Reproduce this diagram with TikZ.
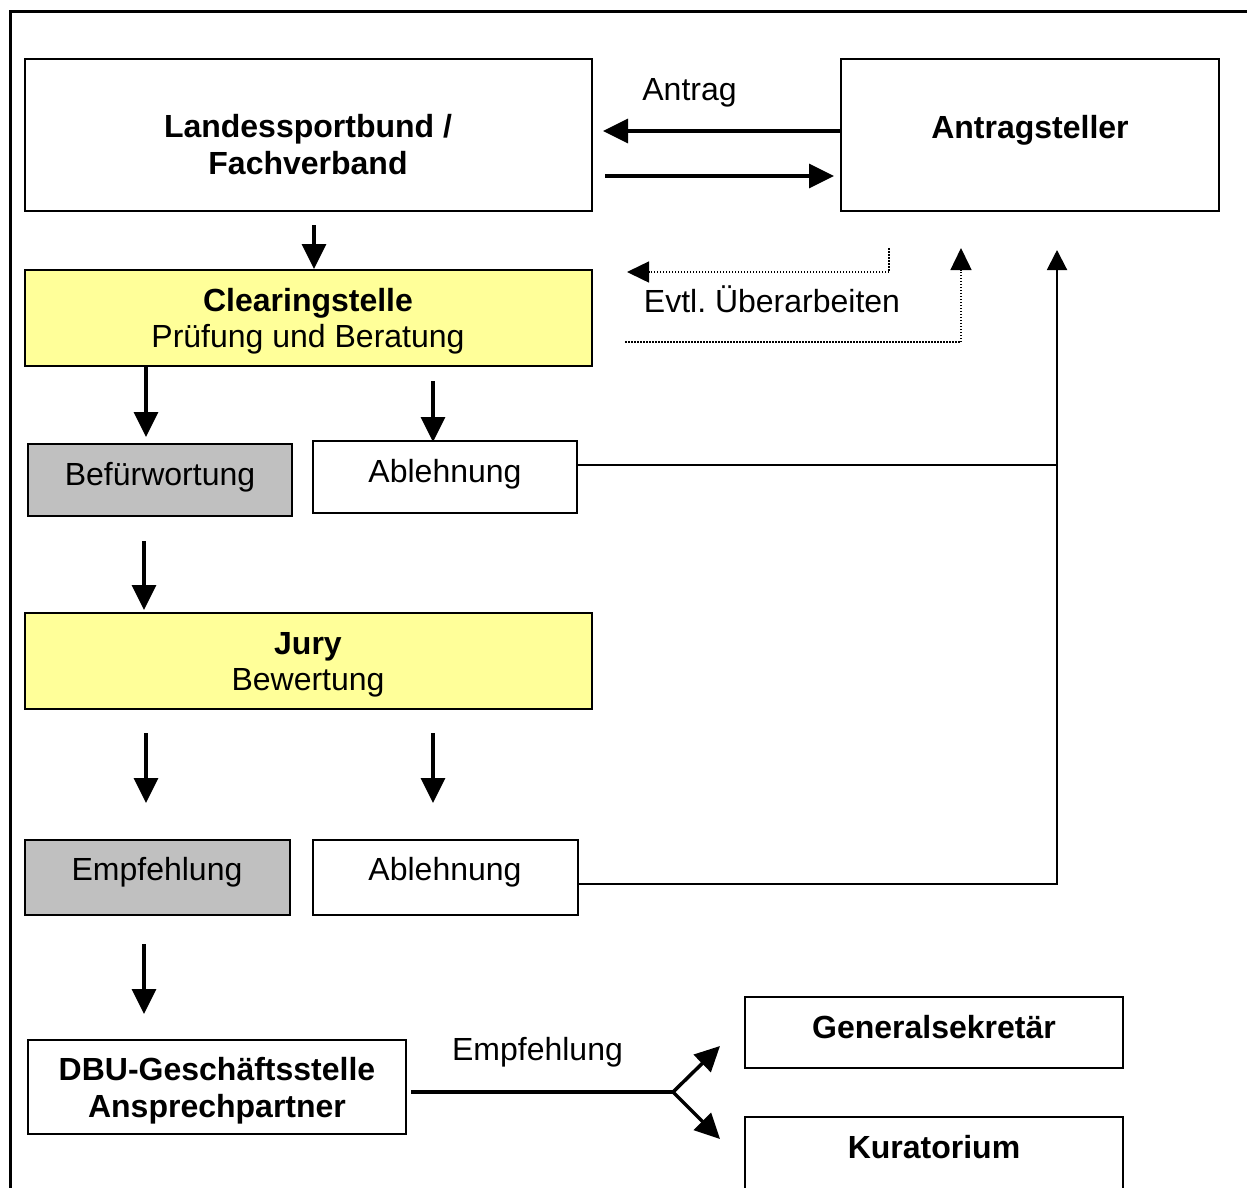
\documentclass[tikz,border=0pt]{standalone}
\usepackage{fontspec}
\setmainfont{Liberation Sans}
\usetikzlibrary{arrows.meta}
\definecolor{paleyellow}{RGB}{255,255,153}
\definecolor{boxgray}{RGB}{192,192,192}
\frenchspacing
\begin{document}
\begin{tikzpicture}[x=1pt,y=-1pt,
  box/.style={draw, line width=2pt, inner sep=0pt},
  txt/.style={anchor=base, inner sep=0pt, font=\fontsize{32}{37}\selectfont},
  btxt/.style={anchor=base, inner sep=0pt, font=\fontsize{32}{37}\selectfont\bfseries},
  big/.style={line width=3.5pt, -{Triangle[length=25pt,width=24pt]}},
  thinline/.style={line width=2pt},
  thinarrow/.style={line width=2pt, -{Triangle[length=20pt,width=20pt]}},
  dots/.style={line width=1.5pt, dash pattern=on 1.5pt off 1.5pt},
  dotarrow/.style={dots, -{Triangle[length=22pt,width=21pt]}}]
\useasboundingbox (0,0) rectangle (1247,1187);
\clip (0,0) rectangle (1247,1187);

% outer frame
\draw[line width=3pt] (10,1200) -- (10,11) -- (1260,11);

% boxes
\node[box, minimum width=567pt, minimum height=152pt] (lsb) at (308.5,135) {};
\node[box, minimum width=378pt, minimum height=152pt] (ant) at (1030,135) {};
\node[box, fill=paleyellow, minimum width=567pt, minimum height=96pt] (cs) at (308.5,318) {};
\node[box, fill=boxgray, minimum width=264pt, minimum height=72pt] (bef) at (160,480) {};
\node[box, minimum width=264pt, minimum height=72pt] (abl1) at (445,477) {};
\node[box, fill=paleyellow, minimum width=567pt, minimum height=96pt] (jury) at (308.5,661) {};
\node[box, fill=boxgray, minimum width=265pt, minimum height=75pt] (emp) at (157.5,877.5) {};
\node[box, minimum width=265pt, minimum height=75pt] (abl2) at (445.5,877.5) {};
\node[box, minimum width=378pt, minimum height=94pt] (dbu) at (217,1087) {};
\node[box, minimum width=378pt, minimum height=71pt] (gen) at (934,1032.5) {};
\node[box, minimum width=378pt, minimum height=80pt] (kur) at (934,1157) {};

% texts
\node[btxt] (lsbA) at (308,137) {Landessportbund /};
\node[btxt] (lsbB) at (308,174) {Fachverband};
\node[btxt] (antT) at (1030,138) {Antragsteller};
\node[txt] (antrag) at (689.5,100) {Antrag};
\node[btxt] (csA) at (308,311) {Clearingstelle};
\node[txt] (csB) at (308,347) {Prüfung und Beratung};
\node[txt] (evtl) at (772,312) {Evtl. Überarbeiten};
\node[txt] (befT) at (160,485) {Befürwortung};
\node[txt] (abl1T) at (445,482) {Ablehnung};
\node[btxt] (juryA) at (308,654) {Jury};
\node[txt] (juryB) at (308,690) {Bewertung};
\node[txt] (empT) at (157,880) {Empfehlung};
\node[txt] (abl2T) at (445,880) {Ablehnung};
\node[btxt] (dbuA) at (217,1080) {DBU-Geschäftsstelle};
\node[btxt] (dbuB) at (217,1117) {Ansprechpartner};
\node[txt] (emplabel) at (537.5,1060) {Empfehlung};
\node[btxt] (genT) at (934,1038) {Generalsekretär};
\node[btxt] (kurT) at (934,1158) {Kuratorium};

% coordinates
\coordinate (c1) at (603,131);
\coordinate (c2s) at (605,176);
\coordinate (c2e) at (834,176);
\coordinate (c3s) at (314,225);
\coordinate (c4e) at (146,437);
\coordinate (c5s) at (433,381);
\coordinate (c5e) at (433,442);
\coordinate (c6s) at (144,541);
\coordinate (c6e) at (144,610);
\coordinate (c7s) at (146,733);
\coordinate (c7e) at (146,803);
\coordinate (c8s) at (433,733);
\coordinate (c8e) at (433,803);
\coordinate (c9s) at (144,944);
\coordinate (c9e) at (144,1014);
\coordinate (fork) at (673,1092);
\coordinate (forkU) at (720,1046);
\coordinate (forkD) at (720,1139);
\coordinate (ret) at (1057,250);
\coordinate (d1s) at (889,248);
\coordinate (d1e) at (627,272);
\coordinate (d2s) at (625,342);
\coordinate (d2e) at (961,248);

% arrows
\draw[big] (ant.west |- c1) -- (c1);
\draw[big] (c2s) -- (c2e);
\draw[big] (c3s) -- (c3s |- cs.north);
\draw[big] (c4e |- cs.south) -- (c4e);
\draw[big] (c5s) -- (c5e);
\draw[big] (c6s) -- (c6e);
\draw[big] (c7s) -- (c7e);
\draw[big] (c8s) -- (c8e);
\draw[big] (c9s) -- (c9e);
\draw[line width=3.5pt] ([xshift=4pt]dbu.east |- fork) -- (fork);
\draw[big] (fork) -- (forkU);
\draw[big] (fork) -- (forkD);

% return lines
\draw[thinline] (abl1.east |- 0,465) -- (ret |- 0,465);
\draw[thinarrow] (abl2.east |- 0,884) -- (ret |- 0,884) -- (ret);

% dotted
\draw[dotarrow] (d1s) -- (d1s |- d1e) -- (d1e);
\draw[dotarrow] (d2s) -- (d2e |- d2s) -- (d2e);
\end{tikzpicture}
\end{document}
